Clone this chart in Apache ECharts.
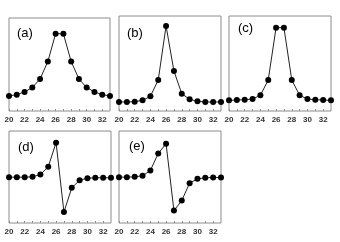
<!DOCTYPE html>
<html><head><meta charset="utf-8">
<script src="https://cdn.jsdelivr.net/npm/echarts@6/dist/echarts.min.js"></script>
<style>html,body{margin:0;padding:0;background:#fff}#c{width:340px;height:242px}</style>
</head><body><div id="c"></div>
<script>
const xs = [20,21,22,23,24,25,26,27,28,29,30,31,32,33];
const seriesA = [0.162,0.176,0.205,0.252,0.345,0.532,0.831,0.831,0.532,0.345,0.252,0.205,0.176,0.162];
const seriesB = [0.095,0.095,0.098,0.112,0.154,0.326,0.895,0.421,0.182,0.123,0.102,0.095,0.095,0.095];
const seriesC = [0.112,0.116,0.119,0.126,0.165,0.326,0.877,0.877,0.326,0.165,0.126,0.119,0.116,0.112];
const seriesD = [0.498,0.498,0.498,0.502,0.527,0.611,0.873,0.120,0.382,0.465,0.487,0.491,0.491,0.491];
const seriesE = [0.498,0.498,0.502,0.513,0.571,0.756,0.862,0.135,0.244,0.433,0.480,0.491,0.495,0.495];
const panelLabels = ['(a)','(b)','(c)','(d)','(e)'];
const allSeries = [seriesA,seriesB,seriesC,seriesD,seriesE];

const grids = [
  {left:9, top:18, width:101, height:93},
  {left:119, top:16, width:102, height:95},
  {left:229, top:16, width:102, height:95},
  {left:9, top:131, width:102, height:92},
  {left:119, top:131, width:102, height:92}
];
const titlePos = [[17,27],[127,27],[238,22],[18,141],[129,140]];

const chart = echarts.init(document.getElementById('c'), null, {renderer:'canvas'});
chart.setOption({
  animation:false,
  title: panelLabels.map((t,i)=>({text:t,left:titlePos[i][0],top:titlePos[i][1],padding:0,
    textStyle:{fontFamily:'Liberation Sans, Arial',fontSize:13,fontWeight:'normal',color:'#000'}})),
  grid: grids.map(g=>Object.assign({show:true,borderColor:'#8c8c8c',borderWidth:1,backgroundColor:'transparent'},g)),
  xAxis: grids.map((g,i)=>({type:'value',gridIndex:i,min:20,max:33,interval:1,
    axisLine:{show:false},splitLine:{show:false},
    axisTick:{show:true,inside:true,length:2,lineStyle:{color:'#8c8c8c'}},
    axisLabel:{showMaxLabel:false,fontSize:8,fontWeight:'bold',fontFamily:'Liberation Sans, Arial',color:'#333',margin:5,
      formatter:v=>(v%2===0 && v<33)?String(v):''}})),
  yAxis: grids.map((g,i)=>({type:'value',gridIndex:i,min:0,max:1,show:false})),
  series: allSeries.map((s,i)=>({type:'line',xAxisIndex:i,yAxisIndex:i,
    data:xs.map((x,j)=>[x,s[j]]),symbol:'circle',symbolSize:6,
    itemStyle:{color:'#000'},lineStyle:{color:'#222',width:1}}))
});
</script></body></html>
